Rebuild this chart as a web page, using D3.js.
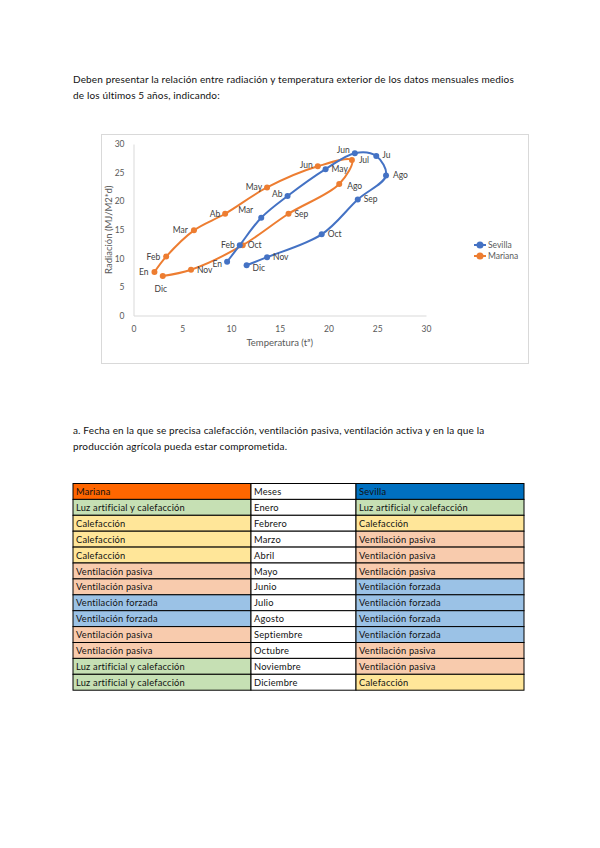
<!DOCTYPE html>
<html>
<head>
<meta charset="utf-8">
<style>
    body, html {
        margin: 0;
        padding: 0;
        background: #fff;
        overflow: hidden;
    }
    svg { display: block; }
</style>
</head>
<body>
<svg id="page" width="600" height="848"></svg>
<script src="https://d3js.org/d3.v7.min.js"></script>
<script>
    // monthly mean values
    var sevillaTemp = [9.6, 10.9, 13.1, 15.8, 19.7, 22.7, 24.9, 25.9, 23.0, 19.3, 13.7, 11.6];
    var sevillaRad  = [9.4, 12.3, 17.1, 20.9, 25.6, 28.4, 27.9, 24.5, 20.3, 14.2, 10.2, 8.8];
    var sevillaLabels = ["En", "Feb", "Mar", "Ab", "May", "Jun", "Ju", "Ago", "Sep", "Oct", "Nov", "Dic"];

    var marianaTemp = [2.15, 3.35, 6.2, 9.4, 13.7, 18.9, 22.4, 21.1, 15.9, 11.2, 5.9, 3.0];
    var marianaRad  = [7.6, 10.3, 14.9, 17.8, 22.4, 26.1, 27.2, 23.0, 17.8, 12.3, 8.0, 6.9];
    var marianaLabels = ["En", "Feb", "Mar", "Ab", "May", "Jun", "Jul", "Ago", "Sep", "Oct", "Nov", "Dic"];

    var xTicks = [0, 5, 10, 15, 20, 25, 30];
    var yTicks = [0, 5, 10, 15, 20, 25, 30];

    // table
    var tableHeader = ["Mariana", "Meses", "Sevilla"];
    var meses = ["Enero", "Febrero", "Marzo", "Abril", "Mayo", "Junio", "Julio", "Agosto", "Septiembre", "Octubre", "Noviembre", "Diciembre"];
    var marianaUso = ["Luz artificial y calefacción", "Calefacción", "Calefacción", "Calefacción", "Ventilación pasiva", "Ventilación pasiva",
        "Ventilación forzada", "Ventilación forzada", "Ventilación pasiva", "Ventilación pasiva", "Luz artificial y calefacción", "Luz artificial y calefacción"];
    var sevillaUso = ["Luz artificial y calefacción", "Calefacción", "Ventilación pasiva", "Ventilación pasiva", "Ventilación pasiva", "Ventilación forzada",
        "Ventilación forzada", "Ventilación forzada", "Ventilación forzada", "Ventilación pasiva", "Ventilación pasiva", "Calefacción"];

    var usoColor = {
        "Luz artificial y calefacción": "#c6e0b4",
        "Calefacción": "#ffe699",
        "Ventilación pasiva": "#f8cbad",
        "Ventilación forzada": "#9bc2e6"
    };

    var font = "Lato, 'Open Sans', sans-serif";
    var svg = d3.select("#page");

    // paragraph text
    function para(lines, x, y0, lh) {
        svg.append("g").selectAll("text")
            .data(lines)
            .enter().append("text")
            .attr("x", x)
            .attr("y", function (d, i) { return y0 + i * lh; })
            .attr("font-family", font)
            .attr("font-size", 10)
            .attr("letter-spacing", 0.15)
            .attr("fill", "#111")
            .text(function (d) { return d; });
    }
    para(["Deben presentar la relación entre radiación y temperatura exterior de los datos mensuales medios",
          "de los últimos 5 años, indicando:"], 73, 83, 16);
    para(["a. Fecha en la que se precisa calefacción, ventilación pasiva, ventilación activa y en la que la",
          "producción agrícola pueda estar comprometida."], 73, 434, 16);

    // chart
    svg.append("rect")
        .attr("x", 101.5).attr("y", 134.5)
        .attr("width", 427).attr("height", 229)
        .attr("fill", "#fff")
        .attr("stroke", "#d9d9d9");

    var x = d3.scaleLinear().domain([0, 30]).range([133.5, 426]);
    var y = d3.scaleLinear().domain([0, 30]).range([315.5, 144]);

    var xAxis = svg.append("g")
        .attr("transform", "translate(0," + y(0) + ")")
        .call(d3.axisBottom(x).tickValues(xTicks).tickSize(0).tickPadding(10));
    var yAxis = svg.append("g")
        .attr("transform", "translate(" + x(0) + ",0)")
        .call(d3.axisLeft(y).tickValues(yTicks).tickSize(0).tickPadding(9));
    [xAxis, yAxis].forEach(function (a) {
        a.select(".domain").attr("stroke", "#d9d9d9");
        a.selectAll("text").attr("font-family", font).attr("font-size", 8.5).attr("fill", "#595959");
    });

    svg.append("text")
        .attr("x", (x(0) + x(30)) / 2).attr("y", 346)
        .attr("text-anchor", "middle")
        .attr("font-family", font).attr("font-size", 9.5).attr("fill", "#595959")
        .text("Temperatura (tª)");
    svg.append("text")
        .attr("transform", "translate(112," + y(15) + ") rotate(-90)")
        .attr("text-anchor", "middle")
        .attr("font-family", font).attr("font-size", 9.5).attr("fill", "#595959")
        .text("Radiación (MJ/M2*d)");

    // label placement [dx, dy, anchor]
    var sevillaPlace = [[-5, 5, "end"], [-5, 3, "end"], [-8, -5, "end"], [-5, 1, "end"], [6, 3, "start"], [-5, 0, "end"],
        [6, 2, "start"], [7, 3, "start"], [6, 3, "start"], [6, 3, "start"], [6, 3, "start"], [6, 6, "start"]];
    var marianaPlace = [[-6, 3, "end"], [-6, 3, "end"], [-6, 3, "end"], [-5, 3, "end"], [-5, 3, "end"], [-5, 2, "end"],
        [7, 3, "start"], [8, 5, "start"], [6, 3, "start"], [5, 3, "start"], [6, 3, "start"], [-2, 16, "middle"]];

    var series = [
        { name: "Sevilla", color: "#4472c4", t: sevillaTemp, r: sevillaRad, lab: sevillaLabels, place: sevillaPlace },
        { name: "Mariana", color: "#ed7d31", t: marianaTemp, r: marianaRad, lab: marianaLabels, place: marianaPlace }
    ];

    var line = d3.line()
        .x(function (d) { return x(d[0]); })
        .y(function (d) { return y(d[1]); })
        .curve(d3.curveCatmullRom.alpha(0.5));

    series.slice().reverse().forEach(function (s) {
        var pts = s.t.map(function (v, i) { return [v, s.r[i]]; });
        var g = svg.append("g");
        g.append("path")
            .attr("d", line(pts))
            .attr("fill", "none")
            .attr("stroke", s.color)
            .attr("stroke-width", 2);
        g.selectAll("circle")
            .data(pts)
            .enter().append("circle")
            .attr("cx", function (d) { return x(d[0]); })
            .attr("cy", function (d) { return y(d[1]); })
            .attr("r", 3)
            .attr("fill", s.color);
    });
    series.forEach(function (s) {
        svg.append("g").selectAll("text")
            .data(s.lab)
            .enter().append("text")
            .attr("x", function (d, i) { return x(s.t[i]) + s.place[i][0]; })
            .attr("y", function (d, i) { return y(s.r[i]) + s.place[i][1]; })
            .attr("text-anchor", function (d, i) { return s.place[i][2]; })
            .attr("font-family", font).attr("font-size", 8.5).attr("fill", "#404040")
            .text(function (d) { return d; });
    });

    // legend
    var legend = svg.append("g").selectAll("g")
        .data(series)
        .enter().append("g")
        .attr("transform", function (d, i) { return "translate(480," + (245 + i * 11) + ")"; });
    legend.append("line")
        .attr("x1", -6).attr("x2", 6)
        .attr("stroke", function (d) { return d.color; })
        .attr("stroke-width", 2);
    legend.append("circle")
        .attr("r", 3.5)
        .attr("fill", function (d) { return d.color; });
    legend.append("text")
        .attr("x", 8).attr("y", 3)
        .attr("font-family", font).attr("font-size", 8.5).attr("fill", "#595959")
        .text(function (d) { return d.name; });

    // table
    var colX = [73, 251, 356, 524];
    var rowH = 15.9;
    var tableTop = 483.5;
    var rows = [tableHeader].concat(meses.map(function (m, i) { return [marianaUso[i], m, sevillaUso[i]]; }));

    var cells = [];
    rows.forEach(function (r, i) {
        r.forEach(function (txt, j) {
            var fill;
            if (i === 0) fill = ["#ff6600", "#ffffff", "#0070c0"][j];
            else fill = j === 1 ? "#ffffff" : usoColor[txt];
            cells.push({ row: i, col: j, text: txt, fill: fill });
        });
    });

    var tg = svg.append("g");
    tg.selectAll("rect")
        .data(cells)
        .enter().append("rect")
        .attr("x", function (d) { return colX[d.col]; })
        .attr("y", function (d) { return tableTop + d.row * rowH; })
        .attr("width", function (d) { return colX[d.col + 1] - colX[d.col]; })
        .attr("height", rowH)
        .attr("fill", function (d) { return d.fill; })
        .attr("stroke", "#000")
        .attr("stroke-width", 1);
    tg.selectAll("text")
        .data(cells)
        .enter().append("text")
        .attr("x", function (d) { return colX[d.col] + 3; })
        .attr("y", function (d) { return tableTop + d.row * rowH + 11.5; })
        .attr("font-family", font)
        .attr("font-size", 9.3)
        .attr("letter-spacing", 0.2)
        .attr("fill", "#111")
        .text(function (d) { return d.text; });
</script>
</body>
</html>
